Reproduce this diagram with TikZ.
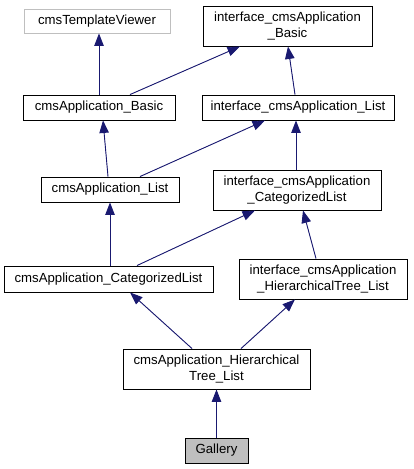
\documentclass[tikz,border=0pt]{standalone}
\usepackage{fontspec}
\setmainfont{Liberation Sans}
\usetikzlibrary{arrows.meta}
\definecolor{edgeblue}{HTML}{191970}
\definecolor{grey75}{HTML}{BFBFBF}

\begin{document}
\begin{tikzpicture}[x=1pt, y=-1pt]

\tikzset{cls/.style = {shape=rectangle, draw, line width=0.9pt, inner sep=0pt, align=center,
    minimum height=25pt, font=\fontsize{13.2}{15.5}\selectfont}}
\tikzset{cls2/.style = {cls, minimum height=40pt}}
\tikzset{edge/.style = {-{Triangle[length=12.5pt,width=9.5pt]}, draw=edgeblue, fill=edgeblue, line width=0.9pt}}
\useasboundingbox (0,0) rectangle (413,469);
%classes
\node[cls, draw=grey75, minimum width=146pt, minimum height=24pt] (tv) at (97,21) {cmsTemplateViewer};
\node[cls2, minimum width=169pt] (ib) at (287.5,26) {interface\_cmsApplication\\\_Basic};
\node[cls, minimum width=152pt] (ab) at (99,107.5) {cmsApplication\_Basic};
\node[cls, minimum width=192pt] (il) at (298,107.5) {interface\_cmsApplication\_List};
\node[cls, minimum width=138pt] (al) at (110,189.5) {cmsApplication\_List};
\node[cls2, minimum width=168pt] (ic) at (297,190) {interface\_cmsApplication\\\_CategorizedList};
\node[cls, minimum width=209pt, minimum height=26pt] (ac) at (108.5,279) {cmsApplication\_CategorizedList};
\node[cls2, minimum width=168pt] (ih) at (323,279) {interface\_cmsApplication\\\_HierarchicalTree\_List};
\node[cls2, minimum width=187pt] (ah) at (216.5,369) {cmsApplication\_Hierarchical\\Tree\_List};
\node[cls, fill=grey75, minimum width=63pt] (g) at (216.5,450.5) {Gallery};
%inheritance
\draw[edge] ([xshift=0pt]ab.north) -- ([xshift=2pt]tv.south);
\draw[edge] ([xshift=31pt]ab.north) -- ([xshift=-47.5pt]ib.south);
\draw[edge] ([xshift=-3pt]il.north) -- ([xshift=0.5pt]ib.south);
\draw[edge] ([xshift=-2pt]al.north) -- ([xshift=4pt]ab.south);
\draw[edge] ([xshift=30pt]al.north) -- ([xshift=-33pt]il.south);
\draw[edge] ([xshift=-1pt]ic.north) -- ([xshift=-2pt]il.south);
\draw[edge] ([xshift=1.5pt]ac.north) -- ([xshift=0pt]al.south);
\draw[edge] ([xshift=28.5pt]ac.north) -- ([xshift=-42pt]ic.south);
\draw[edge] ([xshift=-7pt]ih.north) -- ([xshift=6pt]ic.south);
\draw[edge] ([xshift=-24.5pt]ah.north) -- ([xshift=21.5pt]ac.south);
\draw[edge] ([xshift=24.5pt]ah.north) -- ([xshift=-28pt]ih.south);
\draw[edge] (g.north) -- (ah.south);

\end{tikzpicture}
\end{document}
